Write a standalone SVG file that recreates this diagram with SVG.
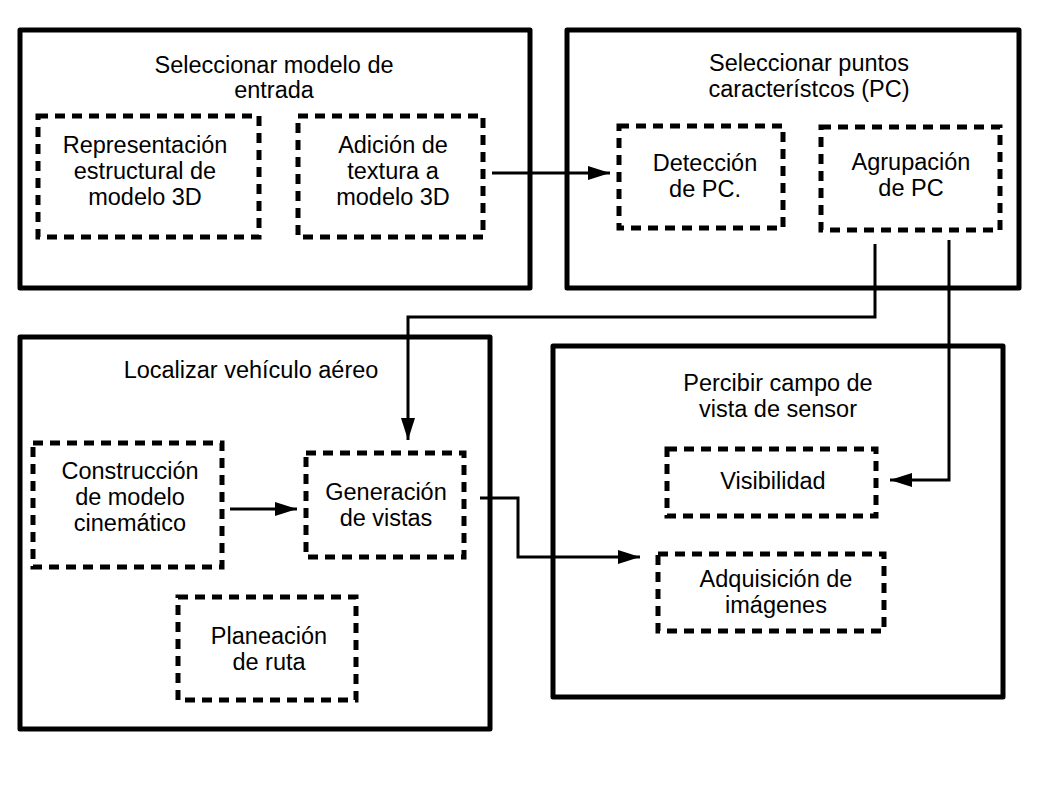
<svg xmlns="http://www.w3.org/2000/svg" width="1058" height="794" viewBox="0 0 1058 794">
<defs>
<style>
.outer{fill:none;stroke:#000;stroke-width:5;stroke-linejoin:round}
.inner{fill:none;stroke:#000;stroke-width:5;stroke-dasharray:10,7}
.conn{fill:none;stroke:#000;stroke-width:3}
text{font-family:"Liberation Sans",Arial,sans-serif;font-size:23.5px;fill:#000;text-anchor:middle}
</style>
<marker id="ah" markerWidth="22" markerHeight="14" refX="22" refY="7" orient="auto" markerUnits="userSpaceOnUse">
<path d="M0,0 L22,7 L0,14 Z" fill="#000"/>
</marker>
</defs>
<rect width="1058" height="794" fill="#fff"/>

<g id="groupA">
<rect class="outer" x="20" y="30" width="510" height="258"/>
<text x="274" y="73">Seleccionar modelo de</text>
<text x="274" y="98">entrada</text>
</g>
<g id="nodeA1">
<rect class="inner" x="38" y="116" width="221" height="121"/>
<text x="145" y="153">Representación</text>
<text x="145" y="179">estructural de</text>
<text x="145" y="205">modelo 3D</text>
</g>
<g id="nodeA2">
<rect class="inner" x="298" y="116" width="185" height="121"/>
<text x="393" y="153">Adición de</text>
<text x="393" y="179">textura a</text>
<text x="393" y="205">modelo 3D</text>
</g>

<g id="groupB">
<rect class="outer" x="567" y="30" width="452" height="258"/>
<text x="809" y="71">Seleccionar puntos</text>
<text x="809" y="97">característcos (PC)</text>
</g>
<g id="nodeB1">
<rect class="inner" x="619" y="126" width="164" height="102"/>
<text x="705" y="171">Detección</text>
<text x="705" y="197">de PC.</text>
</g>
<g id="nodeB2">
<rect class="inner" x="821" y="127" width="179" height="103"/>
<text x="911" y="170">Agrupación</text>
<text x="911" y="196">de PC</text>
</g>

<g id="groupC">
<rect class="outer" x="20" y="337" width="470" height="392"/>
<text x="251" y="378">Localizar vehículo aéreo</text>
</g>
<g id="nodeC1">
<rect class="inner" x="33" y="443" width="189" height="124"/>
<text x="130" y="479">Construcción</text>
<text x="130" y="505">de modelo</text>
<text x="130" y="531">cinemático</text>
</g>
<g id="nodeC2">
<rect class="inner" x="306" y="453" width="158" height="104"/>
<text x="386" y="500">Generación</text>
<text x="386" y="526">de vistas</text>
</g>
<g id="nodeC3">
<rect class="inner" x="178" y="597" width="178" height="103"/>
<text x="269" y="644">Planeación</text>
<text x="269" y="670">de ruta</text>
</g>

<g id="groupD">
<rect class="outer" x="553" y="346" width="450" height="351"/>
<text x="778" y="391">Percibir campo de</text>
<text x="778" y="417">vista de sensor</text>
</g>
<g id="nodeD1">
<rect class="inner" x="667" y="449" width="209" height="67"/>
<text x="773" y="489">Visibilidad</text>
</g>
<g id="nodeD2">
<rect class="inner" x="658" y="554" width="226" height="77"/>
<text x="776" y="587">Adquisición de</text>
<text x="776" y="613">imágenes</text>
</g>

<g id="connectors">
<path class="conn" d="M492,173 H610" marker-end="url(#ah)"/>
<path class="conn" d="M230,509 H297" marker-end="url(#ah)"/>
<path class="conn" d="M875,244 V317 H408 V440" marker-end="url(#ah)"/>
<path class="conn" d="M949,240 V480 H890" marker-end="url(#ah)"/>
<path class="conn" d="M480,498 H518 V557 H640" marker-end="url(#ah)"/>
</g>
</svg>
